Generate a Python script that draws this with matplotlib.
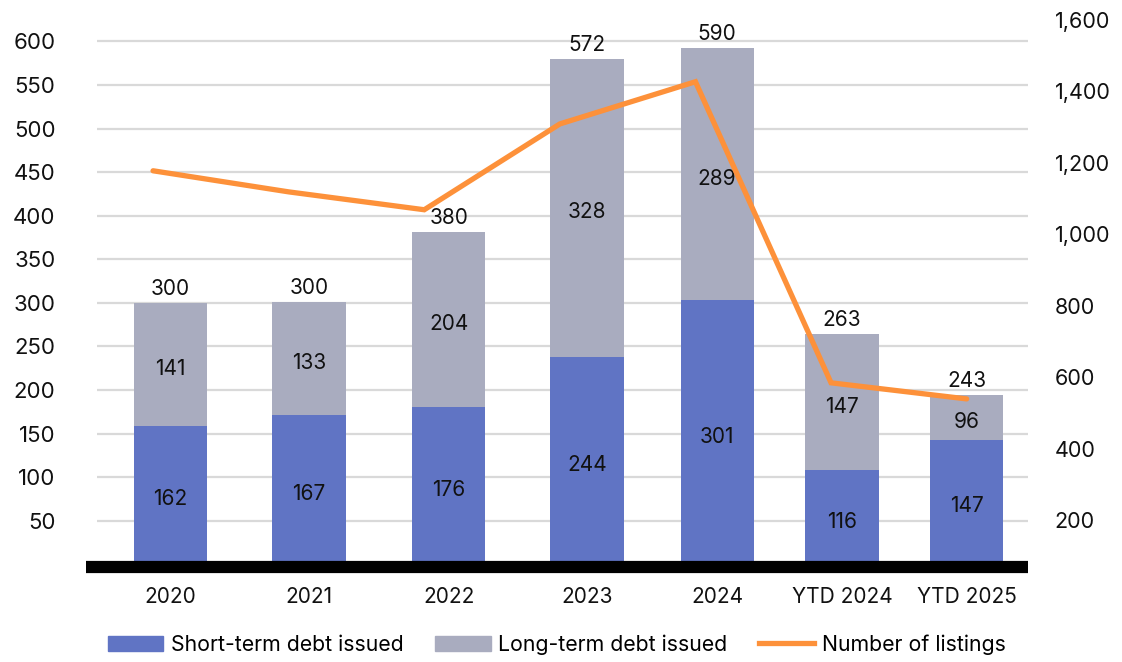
import matplotlib.pyplot as plt
from matplotlib.patches import Patch
from matplotlib.lines import Line2D

plt.rcParams['font.family'] = ['Inter', 'DejaVu Sans']

periods = ["2020", "2021", "2022", "2023", "2024", "YTD 2024", "YTD 2025"]

# bar segment heights as drawn in the chart
short_term = [159, 171, 180, 238, 303, 108, 143]
long_term = [141, 130, 201, 342, 289, 156, 51]

# numbers printed on the bars
short_term_lbl = [162, 167, 176, 244, 301, 116, 147]
long_term_lbl = [141, 133, 204, 328, 289, 147, 96]
total_lbl = [300, 300, 380, 572, 590, 263, 243]

listings = [1178, 1119, 1069, 1309, 1427, 585, 540]

BLUE = "#6074c4"
GREY = "#a9acbf"
ORANGE = "#fd913a"

# the line sits on an even grid, bars are a little offset from it
line_x = list(range(len(periods)))
bar_x = [0.13, 1.15, 2.18, 3.20, 4.16, 5.08, 6.0]
bar_w = 0.54

fig = plt.figure(figsize=(11.22, 6.62), dpi=100)
ax = fig.add_axes([0.0865, 0.1476, 0.8298, 0.8267])
ax2 = ax.twinx()

ax.set_zorder(1)
ax2.set_zorder(2)
ax.patch.set_visible(False)
ax2.patch.set_visible(False)

ax.bar(bar_x, short_term, bar_w, color=BLUE, zorder=2)
ax.bar(bar_x, long_term, bar_w, bottom=short_term, color=GREY, zorder=2)

for i, x in enumerate(bar_x):
    s = short_term[i]
    l = long_term[i]
    ax.text(x, s / 2 - 5, str(short_term_lbl[i]), ha="center", va="center",
            fontsize=15, color="#111111", zorder=3)
    ax.text(x, s + l / 2 - 5, str(long_term_lbl[i]), ha="center", va="center",
            fontsize=15, color="#111111", zorder=3)
    ax.text(x, s + l + 5, str(total_lbl[i]), ha="center", va="bottom",
            fontsize=15, color="#111111", zorder=3)

ax.set_xlim(-0.413, 6.453)
ax.set_ylim(0, 628.1)
ax.set_yticks(range(50, 601, 50))
ax.set_xticks(bar_x)
ax.set_xticklabels(periods)
ax.grid(axis="y", color="#d9d9d9", linewidth=1.6, zorder=0)
ax.tick_params(axis="y", length=0, pad=30, labelsize=16, labelcolor="#111111")
ax.tick_params(axis="x", length=0, pad=16, labelsize=15, labelcolor="#111111")
for sp in ax.spines.values():
    sp.set_visible(False)

# thick black base line, runs a bit past the left edge
ax.axhline(-3.1, xmin=-0.012, xmax=1.0, color="black", linewidth=8.8,
           clip_on=False, zorder=4, solid_capstyle="butt")

ax2.plot(line_x, listings, color=ORANGE, linewidth=3.8,
         solid_capstyle="round", solid_joinstyle="miter")
ax2.set_ylim(77.5, 1608)
ax2.set_yticks(range(200, 1601, 200))
ax2.set_yticklabels([f"{v:,}" for v in range(200, 1601, 200)])
ax2.tick_params(axis="y", length=0, pad=19, labelsize=15.5, labelcolor="#111111")
for sp in ax2.spines.values():
    sp.set_visible(False)

handles = [
    Patch(color=BLUE, label="Short-term debt issued"),
    Patch(color=GREY, label="Long-term debt issued"),
    Line2D([], [], color=ORANGE, linewidth=3.8, label="Number of listings"),
]
fig.legend(handles=handles, loc="center", bbox_to_anchor=(0.4964, 1 - 644.5 / 662),
           ncol=3, frameon=False, fontsize=15.3, handlelength=2.6, handleheight=0.75,
           handletextpad=0.35, columnspacing=1.5)

fig.savefig("out.png", dpi=100)
